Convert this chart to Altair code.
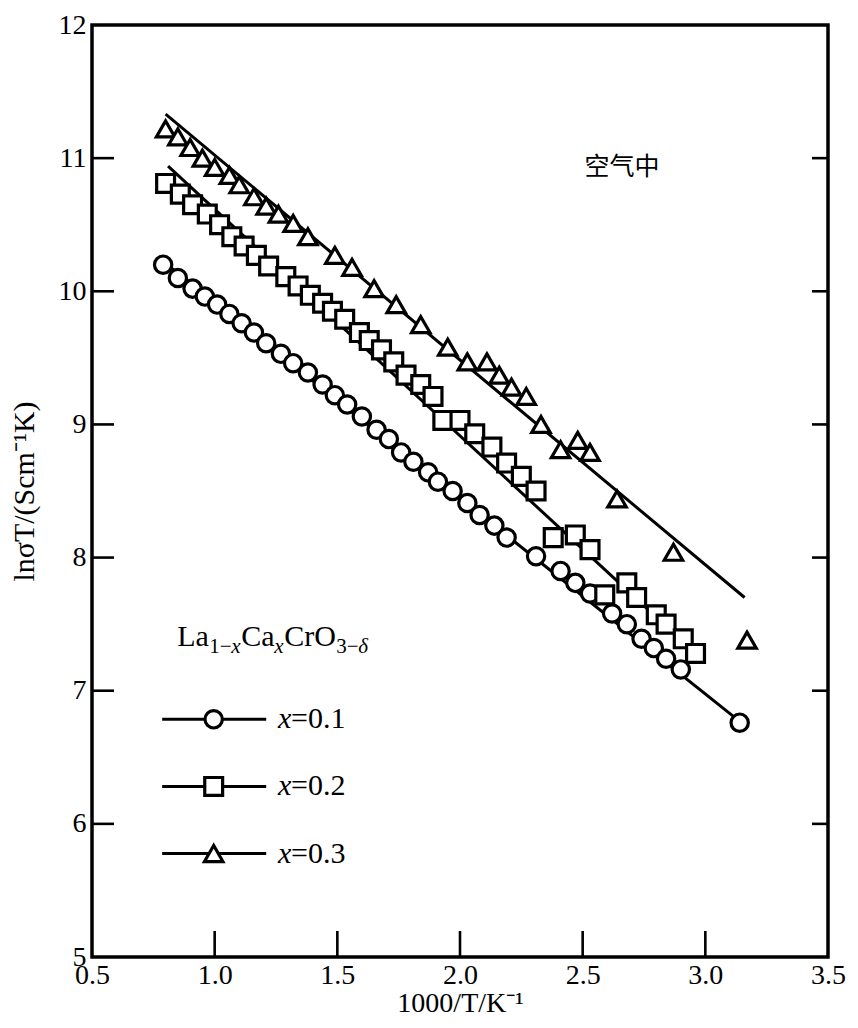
import altair as alt
import pandas as pd

# ---------------- data ----------------
series = ["x=0.1", "x=0.2", "x=0.3"]
shapes = ["circle", "square", "triangle-up"]

x01 = [0.79, 0.85, 0.91, 0.96, 1.01, 1.06, 1.11, 1.16, 1.21, 1.27, 1.32, 1.38, 1.44,
       1.49, 1.54, 1.60, 1.66, 1.71, 1.76, 1.81, 1.87, 1.91, 1.97, 2.03, 2.08, 2.14,
       2.19, 2.31, 2.41, 2.47, 2.53, 2.62, 2.68, 2.74, 2.79, 2.84, 2.90, 3.14]
y01 = [10.20, 10.10, 10.02, 9.96, 9.90, 9.83, 9.76, 9.69, 9.61, 9.53, 9.46, 9.39, 9.30,
       9.22, 9.15, 9.06, 8.96, 8.89, 8.79, 8.72, 8.64, 8.57, 8.50, 8.41, 8.32, 8.24,
       8.15, 8.01, 7.90, 7.81, 7.73, 7.58, 7.50, 7.39, 7.32, 7.24, 7.16, 6.76]

x02 = [0.80, 0.86, 0.91, 0.97, 1.02, 1.07, 1.12, 1.17, 1.22, 1.29, 1.34, 1.39, 1.44,
       1.48, 1.53, 1.59, 1.63, 1.68, 1.73, 1.78, 1.84, 1.89, 1.93, 2.00, 2.06, 2.13,
       2.19, 2.25, 2.31, 2.38, 2.47, 2.53, 2.59, 2.68, 2.72, 2.80, 2.84, 2.91, 2.96]
y02 = [10.81, 10.73, 10.65, 10.58, 10.50, 10.41, 10.34, 10.27, 10.19, 10.11, 10.04, 9.97, 9.91,
       9.85, 9.79, 9.69, 9.63, 9.56, 9.47, 9.37, 9.30, 9.21, 9.03, 9.03, 8.93, 8.83,
       8.71, 8.61, 8.50, 8.15, 8.17, 8.06, 7.72, 7.81, 7.70, 7.57, 7.50, 7.39, 7.28]

x03 = [0.80, 0.85, 0.90, 0.95, 1.00, 1.06, 1.10, 1.16, 1.21, 1.26, 1.32, 1.38, 1.49,
       1.56, 1.65, 1.74, 1.84, 1.95, 2.03, 2.11, 2.16, 2.21, 2.27, 2.33, 2.41, 2.48,
       2.53, 2.64, 2.87, 3.17]
y03 = [11.22, 11.16, 11.08, 11.00, 10.93, 10.87, 10.80, 10.71, 10.64, 10.58, 10.51, 10.41, 10.27,
       10.18, 10.02, 9.90, 9.75, 9.58, 9.47, 9.47, 9.37, 9.28, 9.21, 9.00, 8.81, 8.88,
       8.79, 8.44, 8.04, 7.38]

# fitted straight lines (end points)
fit_x01 = [0.80, 3.14]
fit_y01 = [10.21, 6.77]
fit_x02 = [0.81, 2.96]
fit_y02 = [10.94, 7.28]
fit_x03 = [0.80, 3.16]
fit_y03 = [11.33, 7.70]

x_ticks = [0.5, 1.0, 1.5, 2.0, 2.5, 3.0, 3.5]
y_ticks = [5, 6, 7, 8, 9, 10, 11, 12]
x_inner_ticks = [1.0, 1.5, 2.0, 2.5, 3.0]
y_inner_ticks = [6, 7, 8, 9, 10, 11]

x_title = "1000/T/K⁻¹"
y_title = "lnσT/(Scm⁻¹K)"
annotation = "空气中"

# ---------------- tables ----------------
pts = pd.concat([
    pd.DataFrame({"x": x01, "y": y01, "s": series[0]}),
    pd.DataFrame({"x": x02, "y": y02, "s": series[1]}),
    pd.DataFrame({"x": x03, "y": y03, "s": series[2]}),
], ignore_index=True)

fits = pd.concat([
    pd.DataFrame({"x": fit_x01, "y": fit_y01, "s": series[0]}),
    pd.DataFrame({"x": fit_x02, "y": fit_y02, "s": series[1]}),
    pd.DataFrame({"x": fit_x03, "y": fit_y03, "s": series[2]}),
], ignore_index=True)

SERIF = "Liberation Serif"
LFS = 28   # tick labels
TFS = 30   # axis titles / legend text

W, H = 736, 932
xs = alt.Scale(domain=[0.5, 3.5], nice=False, zero=False)
ys = alt.Scale(domain=[5, 12], nice=False, zero=False)
shape_scale = alt.Scale(domain=series, range=shapes)
size_scale = alt.Scale(domain=series, range=[300, 340, 400])

x_axis = alt.Axis(values=x_ticks, format=".1f", title=x_title, grid=False, ticks=False,
                  tickSize=0, domain=False, labelFont=SERIF, labelFontSize=LFS,
                  labelFlush=False, labelPadding=4, titleFont=SERIF, titleFontSize=28,
                  titleFontWeight="normal", titlePadding=0, labelColor="black",
                  titleColor="black")
y_axis = alt.Axis(values=y_ticks, format="d", title=y_title, grid=False, ticks=False,
                  tickSize=0, domain=False, labelFont=SERIF, labelFontSize=LFS,
                  labelFlush=False, labelPadding=6, titleFont=SERIF, titleFontSize=TFS,
                  titleFontWeight="normal", titlePadding=19, labelColor="black",
                  titleColor="black")

lines = alt.Chart(fits).mark_line(color="black", strokeWidth=3).encode(
    x=alt.X("x:Q", scale=xs, axis=x_axis),
    y=alt.Y("y:Q", scale=ys, axis=y_axis),
    detail="s:N",
)

points = alt.Chart(pts).mark_point(filled=True, fill="white", stroke="black",
                                   strokeWidth=3.2, opacity=1).encode(
    x="x:Q", y="y:Q",
    shape=alt.Shape("s:N", scale=shape_scale, legend=None),
    size=alt.Size("s:N", scale=size_scale, legend=None),
)

# inward ticks on left, right and bottom frame edges
tick_len_left = 22 / W * 3.0
tick_len_right = 16 / W * 3.0
tick_len_bottom = 26 / H * 7.0
yt = pd.DataFrame({"y": y_inner_ticks})
xt = pd.DataFrame({"x": x_inner_ticks})
left_ticks = alt.Chart(yt).mark_rule(color="black", strokeWidth=2.6).encode(
    x=alt.datum(0.5), x2=alt.datum(0.5 + tick_len_left), y="y:Q")
right_ticks = alt.Chart(yt).mark_rule(color="black", strokeWidth=2.6).encode(
    x=alt.datum(3.5 - tick_len_right), x2=alt.datum(3.5), y="y:Q")
bottom_ticks = alt.Chart(xt).mark_rule(color="black", strokeWidth=2.6).encode(
    x="x:Q", y=alt.datum(5), y2=alt.datum(5 + tick_len_bottom))

# annotation
ann = alt.Chart(pd.DataFrame({"x": [2.66], "y": [10.93], "t": [annotation]})).mark_text(
    font="Noto Sans CJK SC", fontSize=25, color="black", align="center", baseline="middle"
).encode(x="x:Q", y="y:Q", text="t:N")

# ---------------- legend (drawn inside the plot) ----------------
leg = pd.DataFrame({"s": series,
                    "y": [6.785 - 0.504 * i for i in range(len(series))],
                    "num": [s.split("=")[1] for s in series]})
leg["x"] = 0.786
leg["x2"] = 1.21
leg["xm"] = 0.996
leg["xt"] = 1.258

leg_lines = alt.Chart(leg).mark_rule(color="black", strokeWidth=3).encode(
    x="x:Q", x2="x2:Q", y="y:Q")
leg_pts = alt.Chart(leg).mark_point(filled=True, fill="white", stroke="black",
                                    strokeWidth=3.2, opacity=1).encode(
    x="xm:Q", y="y:Q",
    shape=alt.Shape("s:N", scale=shape_scale, legend=None),
    size=alt.Size("s:N", scale=size_scale, legend=None),
)
leg_x = alt.Chart(leg).mark_text(font=SERIF, fontSize=TFS, fontStyle="italic",
                                 align="left", baseline="middle", color="black").encode(
    x="xt:Q", y="y:Q", text=alt.value("x"))
leg_num_eq = alt.Chart(leg).transform_calculate(lab="'=' + datum.num").mark_text(
    font=SERIF, fontSize=TFS, align="left", baseline="middle", color="black", dx=13
).encode(x="xt:Q", y="y:Q", text="lab:N")

# formula La1-xCaxCrO3-δ (pieces with sub-scripts)
formula = pd.DataFrame({
    "t": ["La", "1−", "x", "Ca", "x", "CrO", "3−", "δ"],
    "dx": [0, 32, 54, 64, 97, 107, 159, 181],
    "dy": [0, 7, 7, 0, 7, 0, 7, 7],
    "fs": [TFS, 21, 21, TFS, 21, TFS, 21, 21],
    "it": ["normal", "normal", "italic", "normal", "italic", "normal", "normal", "italic"],
})
formula["x"] = 0.847
formula["y"] = 7.333
form_layers = []
for _, r in formula.iterrows():
    form_layers.append(
        alt.Chart(pd.DataFrame([r])).mark_text(
            font=SERIF, fontSize=float(r["fs"]), fontStyle=r["it"], align="left",
            baseline="alphabetic", color="black", dx=float(r["dx"]), dy=float(r["dy"])
        ).encode(x="x:Q", y="y:Q", text="t:N")
    )

chart = alt.layer(
    lines, points, left_ticks, right_ticks, bottom_ticks, ann,
    leg_lines, leg_pts, leg_x, leg_num_eq, *form_layers
).properties(
    width=W, height=H,
    padding={"left": 84, "top": 17, "right": 22, "bottom": 63},
    autosize=alt.AutoSizeParams(type="none"),
).configure(
    background="white",
    view=alt.ViewConfig(stroke="black", strokeWidth=3.5),
)

chart.save("out.html", embed_options={"renderer": "svg", "actions": False})
